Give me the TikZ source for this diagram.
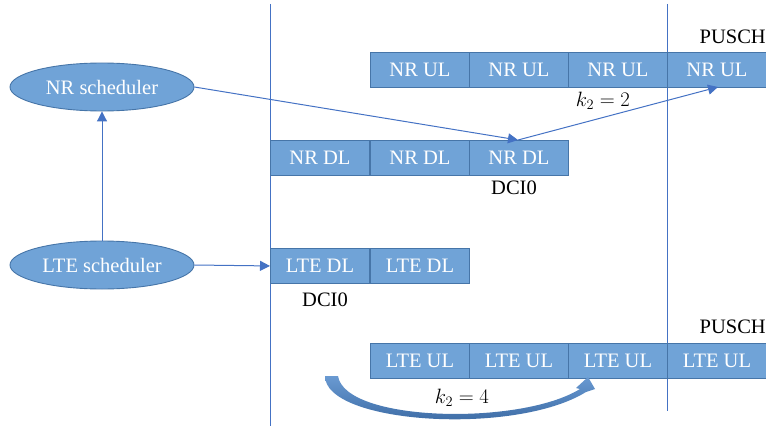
\documentclass[tikz,border=0pt]{standalone}
\usepackage{fontspec}
\setmainfont{Liberation Serif}
\usetikzlibrary{shapes.geometric,arrows.meta}
\definecolor{boxfill}{HTML}{70A3D7}
\definecolor{boxedge}{HTML}{4675A8}
\definecolor{linec}{HTML}{4472C4}
\definecolor{swooshlight}{HTML}{6A9AD2}
\definecolor{swooshdark}{HTML}{2F5E98}
\tikzset{
  cell/.style={rectangle, draw=boxedge, fill=boxfill, line width=0.9pt, minimum width=99pt, minimum height=35pt, inner sep=0pt, text=white, font=\fontsize{20.5}{22}\selectfont, anchor=north west},
  sched/.style={ellipse, draw=boxedge, fill=boxfill, line width=0.9pt, minimum width=184pt, minimum height=48pt, inner sep=0pt, text=white, font=\fontsize{20.5}{22}\selectfont},
  conn/.style={draw=linec, line width=1pt, -{Triangle[length=10pt,width=10pt]}},
  vline/.style={draw=linec, line width=0.9pt},
  lbl/.style={font=\fontsize{20.5}{22}\selectfont, text=black, inner sep=0pt}
}
\begin{document}
\begin{tikzpicture}[x=1pt,y=-1pt]
\useasboundingbox (0,0) rectangle (766,428);
\begin{scope}
\clip (0,0) rectangle (766,428);
% vertical lines
\coordinate (v1t) at (270,4); \coordinate (v1b) at (270,426);
\coordinate (v2t) at (667,4); \coordinate (v2b) at (667,411);
\draw[vline] (v1t) -- (v1b);
\draw[vline] (v2t) -- (v2b);
% NR UL
\node[cell] (nu1) at (370,52) {NR UL};
\node[cell] (nu2) at (469,52) {NR UL};
\node[cell] (nu3) at (568,52) {NR UL};
\node[cell] (nu4) at (667,52) {NR UL};
% NR DL
\node[cell] (nd1) at (270,140) {NR DL};
\node[cell] (nd2) at (370,140) {NR DL};
\node[cell] (nd3) at (469,140) {NR DL};
% LTE DL
\node[cell] (ld1) at (270,248) {LTE DL};
\node[cell] (ld2) at (370,248) {LTE DL};
% LTE UL
\node[cell] (lu1) at (370,343) {LTE UL};
\node[cell] (lu2) at (469,343) {LTE UL};
\node[cell] (lu3) at (568,343) {LTE UL};
\node[cell] (lu4) at (667,343) {LTE UL};
% schedulers
\node[sched] (nrs) at (102,87) {NR scheduler};
\node[sched] (lte) at (102,265) {LTE scheduler};
% labels
\node[lbl, anchor=east] (p1) at (766,37) {PUSCH};
\node[lbl, anchor=east] (p2) at (766,327) {PUSCH};
\node[lbl] (k2a) at (603,101) {$k_2 = 2$};
\node[lbl] (dci1) at (514,188) {DCI0};
\node[lbl] (dci2) at (325,300) {DCI0};
\node[lbl] (k2b) at (462,398) {$k_2 = 4$};
% connectors
\draw[conn] (lte.north) -- (nrs.south);
\draw[conn] (lte.east) -- (ld1.west);
\coordinate (mid) at (518,140);
\coordinate (tgt) at (718,87);
\draw[conn] (nrs.east) -- (mid);
\draw[conn] (mid) -- (tgt);
% curved swoosh arrow
\shade[top color=swooshlight, bottom color=swooshdark]
  (325,376) .. controls (325,424) and (515,436) .. (586,392)
  -- (595,389) -- (588,377) -- (576,388) -- (580,389)
  .. controls (520,426) and (345,422) .. (338,376) -- cycle;
\end{scope}
\end{tikzpicture}
\end{document}
